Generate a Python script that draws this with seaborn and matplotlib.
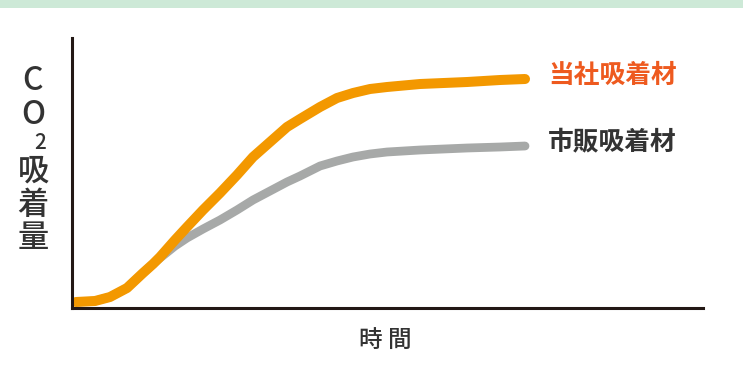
import numpy as np
import pandas as pd
import matplotlib
matplotlib.use('Agg')
import matplotlib.pyplot as plt
import seaborn as sns
from matplotlib.patches import Rectangle

# =============================================================================
# データ (時間 / CO2吸着量, 任意単位)
# =============================================================================
time = [4, 23, 38, 55, 71, 81, 88, 103, 115, 131, 148, 165, 181, 198, 215,
        228, 248, 265, 281, 298, 315, 348, 395, 428, 453]
ours = [6, 7, 11, 20, 35, 44, 51, 68, 81, 98, 115, 133, 151, 166, 181,
        189, 201, 210, 215, 219, 221, 224, 226, 228, 229]
market = [6, 7, 11, 20, 35, 44, 50, 62, 70, 79, 88, 98, 108, 117, 126,
          132, 142, 147, 151, 154, 156, 158, 160, 161, 162]
names = ['市販吸着材', '当社吸着材']
colors = ['#a7a9a8', '#f39800']
label_colors = ['#333333', '#ee5a1f']
widths = [6.3, 7.2]

df = pd.DataFrame({'time': time * 2,
                   'co2': market + ours,
                   'name': [names[0]] * len(time) + [names[1]] * len(time)})

# =============================================================================
# 作図
# =============================================================================
sns.set_style('white')
plt.rcParams['font.family'] = ['Noto Sans CJK JP', 'DejaVu Sans']

fig = plt.figure(figsize=(7.43, 3.69), dpi=100)
# 上部の緑帯
fig.patches.append(Rectangle((0, 0.978), 1, 0.022, transform=fig.transFigure,
                             facecolor='#cde9d7', edgecolor='none'))
ax = fig.add_axes([0.0969, 0.1653, 0.8493, 0.7317])

for n, c, w in zip(names, colors, widths):
    sns.lineplot(data=df[df['name'] == n], x='time', y='co2', color=c,
                 linewidth=w, solid_capstyle='round', solid_joinstyle='round',
                 ax=ax, legend=False)

ax.set_xlim(0, 631)
ax.set_ylim(0, 270)
ax.set_xticks([])
ax.set_yticks([])
ax.set_xlabel('')
ax.set_ylabel('')
sns.despine(ax=ax)
for s in ['left', 'bottom']:
    ax.spines[s].set_color('#231815')
    ax.spines[s].set_linewidth(2.2)

# 凡例代わりのラベル
for n, lc, y in zip(names, label_colors, [market[-1], ours[-1]]):
    ax.text(476, y + 4, n, color=lc, fontsize=18.5, fontweight='bold',
            va='center', ha='left')

# 縦書きの軸ラベル
W, H = 743, 369
for ch, px, py, fs in [('C', 33, 81, 23), ('O', 33, 115, 23), ('2', 40, 143, 15),
                       ('吸', 33, 172, 22.5), ('着', 33, 205, 22.5), ('量', 33, 238, 22.5)]:
    fig.text(px / W, 1 - py / H, ch, color='#333333', fontsize=fs,
             fontweight='medium', ha='center', va='center')

fig.text(385 / W, 1 - 341 / H, '時 間', color='#333333', fontsize=17,
         fontweight='medium', ha='center', va='center')

plt.savefig('out.png', dpi=100)
plt.close('all')
